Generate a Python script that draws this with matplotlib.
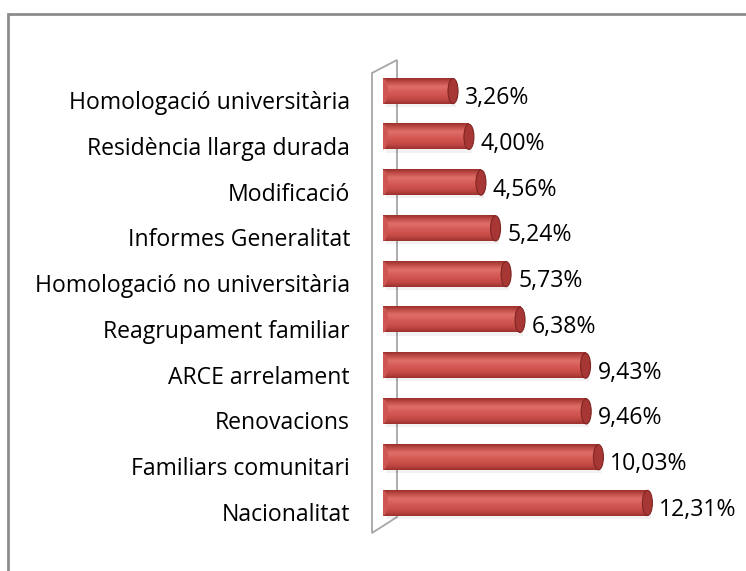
import matplotlib
matplotlib.use("Agg")
import matplotlib.pyplot as plt
import numpy as np
from matplotlib.colors import LinearSegmentedColormap
from matplotlib.patches import Ellipse, Rectangle, Polygon

# data, bottom to top
categories = [
    "Nacionalitat",
    "Familiars comunitari",
    "Renovacions",
    "ARCE arrelament",
    "Reagrupament familiar",
    "Homologació no universitària",
    "Informes Generalitat",
    "Modificació",
    "Residència llarga durada",
    "Homologació universitària",
]
values = [12.31, 10.03, 9.46, 9.43, 6.38, 5.73, 5.24, 4.56, 4.00, 3.26]
value_labels = ["12,31%", "10,03%", "9,46%", "9,43%", "6,38%",
                "5,73%", "5,24%", "4,56%", "4,00%", "3,26%"]

W, H = 746, 571
plt.rcParams["font.family"] = ["Open Sans", "DejaVu Sans"]
fig = plt.figure(figsize=(W / 100, H / 100), dpi=100)

FS = 16.6


def fig_xy(px, py):
    return (px / W, 1 - py / H)


# outer frame (runs off the right and bottom edges)
fig.patches.append(Rectangle((8 / W, -0.05), 1.0, (H - 14) / H + 0.05,
                             transform=fig.transFigure, fill=False,
                             edgecolor="#8c8c8c", linewidth=2))

# plot area in pixels
x0, x1 = 383, 746
step = 45.7
y_top, y_bot = 91 - step, 503 + step
XMAX = 16.9
ax = fig.add_axes([x0 / W, 1 - y_bot / H, (x1 - x0) / W, (y_bot - y_top) / H])
ax.set_xlim(0, XMAX)
ax.set_ylim(-1, 10)
ax.axis("off")

px_per_x = (x1 - x0) / XMAX
px_per_y = step
cap_w = 10 / px_per_x
bar_h = 0.55

# 3D back wall, behind the bars
wall = Polygon([fig_xy(372, 73), fig_xy(397, 60), fig_xy(397, 517), fig_xy(372, 533)],
               closed=True, transform=fig.transFigure, facecolor="white",
               edgecolor="#a6a6a6", linewidth=1.3, zorder=0.5, clip_on=False)
ax.add_patch(wall)

cyl = LinearSegmentedColormap.from_list(
    "cyl", ["#9a302d", "#c4504b", "#df6f6a", "#d85e59", "#cf524d", "#c04743", "#9a312e"])
grad = np.linspace(0, 1, 64).reshape(-1, 1)

for i, (v, lab) in enumerate(zip(values, value_labels)):
    y = i
    # faint shadow
    ax.add_patch(Rectangle((0.15, y - bar_h / 2 - 0.07), v, bar_h, facecolor="#000000",
                           alpha=0.05, edgecolor="none", zorder=1))
    ax.imshow(grad, cmap=cyl, aspect="auto", interpolation="bilinear",
              extent=[0, v, y - bar_h / 2, y + bar_h / 2], zorder=2)
    ax.add_patch(Ellipse((0, y), cap_w, bar_h, facecolor="#cf5550",
                         edgecolor="none", zorder=2))
    ax.add_patch(Ellipse((v, y), cap_w, bar_h, facecolor="#a63734",
                         edgecolor="#802522", linewidth=0.8, zorder=3))
    ax.text(v + cap_w / 2 + 7 / px_per_x, y - 7 / px_per_y, lab, va="center",
            ha="left", fontsize=FS, color="black")

# category labels, sitting a little lower than the bars
for i, c in enumerate(categories):
    ax.text(-33 / px_per_x, i - 12 / px_per_y, c, va="center", ha="right",
            fontsize=FS, color="black", clip_on=False)

ax.set_xlim(0, XMAX)
ax.set_ylim(-1, 10)
fig.savefig("out.png", dpi=100)
